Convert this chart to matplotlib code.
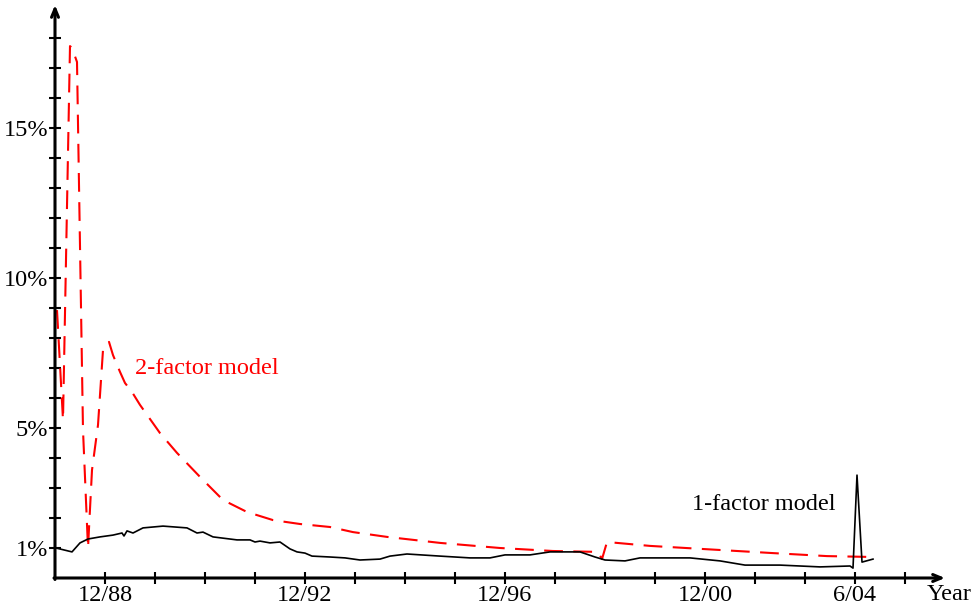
import matplotlib
matplotlib.use("Agg")
import matplotlib.pyplot as plt

plt.rcParams['font.family'] = ['Liberation Serif', 'DejaVu Serif']

# time axis in years from the start of the sample (one tick per year)
t_one = [0.02, 0.34, 0.50, 0.66, 0.90, 1.16, 1.34, 1.38, 1.44, 1.56, 1.76, 2.16,
         2.64, 2.84, 2.96, 3.16, 3.64, 3.90, 4.00, 4.10, 4.30, 4.50, 4.70, 4.84,
         5.00, 5.14, 5.50, 5.80, 6.10, 6.50, 6.70, 7.04, 7.70, 8.30, 8.70, 9.00,
         9.50, 9.90, 10.50, 10.80, 11.00, 11.40, 11.70, 12.70, 13.30, 13.80,
         14.50, 15.30, 15.90, 15.96, 16.04, 16.14, 16.36]
err_one = [1.00, 0.87, 1.17, 1.30, 1.37, 1.43, 1.50, 1.40, 1.57, 1.50, 1.67, 1.73,
           1.67, 1.50, 1.53, 1.37, 1.27, 1.27, 1.20, 1.23, 1.17, 1.20, 0.97, 0.87,
           0.83, 0.73, 0.70, 0.67, 0.60, 0.63, 0.73, 0.80, 0.73, 0.67, 0.67, 0.77,
           0.77, 0.87, 0.87, 0.70, 0.60, 0.57, 0.67, 0.67, 0.57, 0.43,
           0.43, 0.37, 0.40, 0.33, 3.43, 0.53, 0.63]

t_two = [0.04, 0.16, 0.30, 0.34, 0.44, 0.56, 0.66, 0.74, 0.86, 0.96, 1.08, 1.16,
         1.30, 1.40, 1.54, 1.70, 2.10, 2.44, 2.90, 3.36, 3.84, 4.36, 4.90, 5.50,
         5.96, 6.64, 7.70, 8.90, 9.96, 10.86, 10.94, 11.04, 11.90, 14.36, 15.44,
         16.36]
err_two = [8.93, 5.27, 17.73, 17.67, 17.20, 4.93, 1.00, 3.60, 5.10, 7.60, 7.87, 7.43,
           6.87, 6.50, 6.20, 5.77, 4.83, 4.17, 3.37, 2.60, 2.20, 1.93, 1.80, 1.70,
           1.53, 1.37, 1.17, 1.00, 0.90, 0.87, 0.63, 1.20, 1.07, 0.83, 0.73,
           0.70]

xtick_pos = list(range(1, 18))
xtick_named = {1: '12/88', 5: '12/92', 9: '12/96', 13: '12/00', 16: '6/04'}
ytick_pos = list(range(1, 19))
ytick_named = {1: '1%', 5: '5%', 10: '10%', 15: '15%'}

fs = 17.5

fig = plt.figure(figsize=(9.75, 6.06), dpi=100)
ax = fig.add_axes([55 / 975, 28 / 606, 890 / 975, 573 / 606])
ax.set_xlim(0, 17.8)
ax.set_ylim(0, 19.1)

ax.plot(t_two, err_two, color='#ff0000', lw=1.5, dashes=(9, 5), clip_on=False)
ax.plot(t_one, err_one, color='black', lw=1.2, clip_on=False)

for s in ax.spines.values():
    s.set_visible(False)

# axes drawn as arrows
arrow = dict(arrowstyle='->,head_length=0.6,head_width=0.25', lw=2.2,
             color='black', shrinkA=0, shrinkB=0)
ax.annotate('', xy=(17.8, 0), xytext=(-0.02, 0), arrowprops=arrow,
            annotation_clip=False)
ax.annotate('', xy=(0, 19.1), xytext=(0, -0.05), arrowprops=arrow,
            annotation_clip=False)

ax.set_xticks(xtick_pos)
ax.set_xticklabels([xtick_named.get(p, '') for p in xtick_pos])
ax.set_yticks(ytick_pos)
ax.set_yticklabels([ytick_named.get(p, '') for p in ytick_pos])
ax.tick_params(direction='inout', length=8, width=1.5, labelsize=fs)
ax.tick_params(axis='x', pad=1)
ax.tick_params(axis='y', pad=1)

ax.text(17.43, -0.55, 'Year', fontsize=fs, ha='left', va='center')
ax.text(1.6, 7.0, '2-factor model', fontsize=fs, color='#ff0000',
        ha='left', va='center')
ax.text(12.75, 2.45, '1-factor model', fontsize=fs, color='black',
        ha='left', va='center')

fig.savefig('out.png', dpi=100)
